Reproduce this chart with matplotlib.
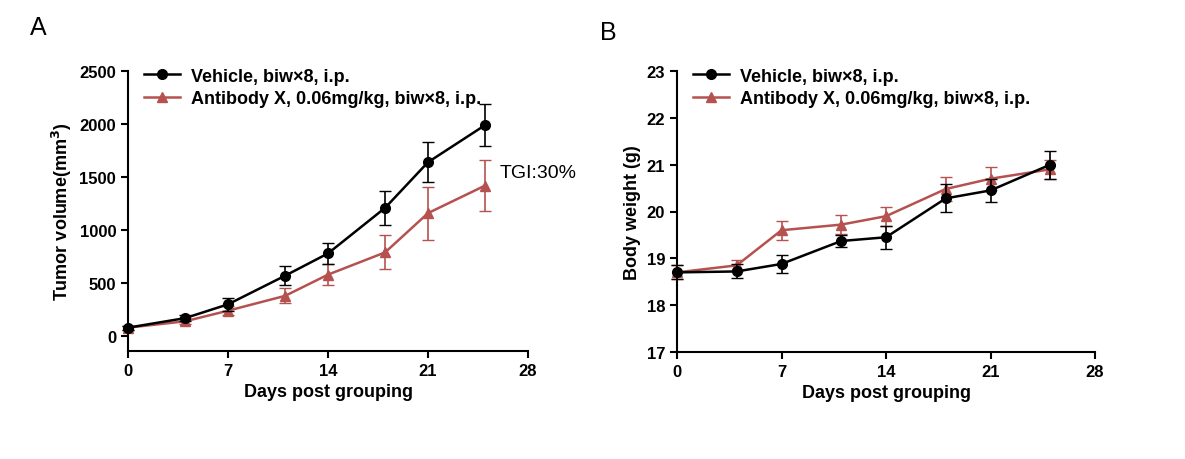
import matplotlib
matplotlib.use('Agg')
import matplotlib.pyplot as plt
from matplotlib.lines import Line2D

plt.rcParams['font.family'] = ['Liberation Sans', 'DejaVu Sans']

days = [0, 4, 7, 11, 14, 18, 21, 25]
vol_veh = [80, 170, 300, 570, 780, 1210, 1640, 1990]
vol_veh_err = [20, 30, 60, 90, 100, 160, 190, 200]
vol_ab = [80, 140, 240, 380, 580, 790, 1160, 1420]
vol_ab_err = [20, 30, 40, 70, 100, 160, 250, 240]
bw_veh = [18.7, 18.72, 18.88, 19.37, 19.45, 20.28, 20.45, 21.0]
bw_veh_err = [0.15, 0.15, 0.2, 0.12, 0.25, 0.3, 0.25, 0.3]
bw_ab = [18.7, 18.85, 19.6, 19.72, 19.9, 20.48, 20.7, 20.9]
bw_ab_err = [0.15, 0.12, 0.2, 0.2, 0.2, 0.25, 0.25, 0.2]

RED = '#B5524F'
lab_veh = 'Vehicle, biw×8, i.p.'
lab_ab = 'Antibody X, 0.06mg/kg, biw×8, i.p.'

fig = plt.figure(figsize=(11.85, 4.6), dpi=100)
axA = fig.add_axes([128/1185, 1-352/460, 400/1185, 280/460])
axB = fig.add_axes([677/1185, 1-353/460, 418/1185, 281/460])

def style(ax):
    for s in ['top', 'right']:
        ax.spines[s].set_visible(False)
    for s in ['left', 'bottom']:
        ax.spines[s].set_linewidth(1.5)
    ax.tick_params(width=1.5, length=5, labelsize=12)
    for t in ax.get_xticklabels() + ax.get_yticklabels():
        t.set_fontweight('bold')
    ax.set_xlim(0, 28)
    ax.set_xticks([0, 7, 14, 21, 28])
    ax.set_xlabel('Days post grouping', fontsize=13, fontweight='bold')

def draw(ax, yv, ev, ya, ea):
    ax.errorbar(days, ya, yerr=ea, color=RED, marker='^', ms=7, lw=1.8,
                capsize=4, elinewidth=1.2, clip_on=False, zorder=3)
    ax.errorbar(days, yv, yerr=ev, color='black', marker='o', ms=7, lw=1.8,
                capsize=4, elinewidth=1.2, clip_on=False, zorder=4)
    h = [Line2D([], [], color='black', marker='o', ms=7, lw=1.8),
         Line2D([], [], color=RED, marker='^', ms=7, lw=1.8)]
    ax.legend(h, [lab_veh, lab_ab], loc='upper left', bbox_to_anchor=(0.0, 1.07),
              frameon=False, prop={'weight': 'bold', 'size': 13},
              handlelength=2.0, handletextpad=0.6, labelspacing=0.3)

draw(axA, vol_veh, vol_veh_err, vol_ab, vol_ab_err)
axA.set_ylim(-140, 2500)
axA.set_yticks(range(0, 2501, 500))
axA.set_ylabel('Tumor volume(mm$^\\mathbf{3}$)', fontsize=13, fontweight='bold')
axA.text(26.0, 1500, 'TGI:30%', fontsize=14)
style(axA)

draw(axB, bw_veh, bw_veh_err, bw_ab, bw_ab_err)
axB.set_ylim(17, 23)
axB.set_yticks(range(17, 24))
axB.set_ylabel('Body weight (g)', fontsize=13, fontweight='bold')
style(axB)

fig.text(30/1185, 1-35/460, 'A', fontsize=18)
fig.text(600/1185, 1-40/460, 'B', fontsize=18)

fig.savefig('out.png', dpi=100)
